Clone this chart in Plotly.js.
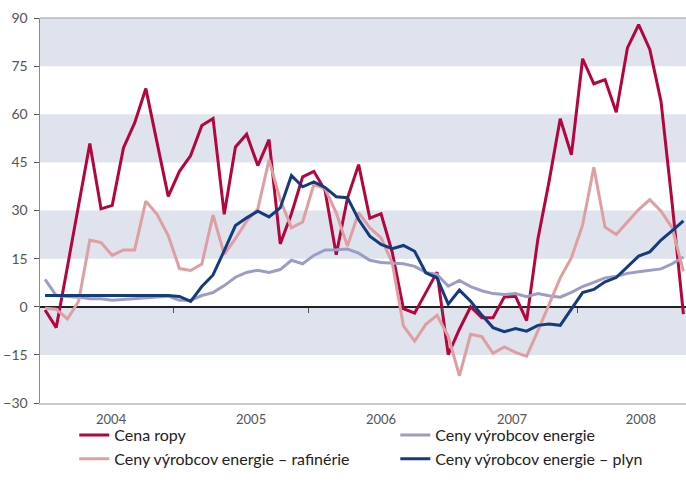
<!DOCTYPE html>
<html>
<head>
<meta charset="utf-8">
<script src="https://cdn.plot.ly/plotly-3.0.1.min.js"></script>
<style>
  html, body { margin: 0; padding: 0; background: #fff; }
  #chart { width: 686px; height: 493px; }
</style>
</head>
<body>
<div id="chart"></div>
<script>
    // Monthly data, Jan 2004 - Oct 2008 (y/y change, %)
    const months = [];
    for (let y = 2004; y <= 2008; y++) {
        for (let m = 1; m <= 12; m++) {
            if (y === 2008 && m > 10) break;
            months.push(y + '-' + String(m).padStart(2, '0'));
        }
    }
    const years = ['2004', '2005', '2006', '2007', '2008'];

    const cenaRopy = [
        -1, -6.5, 12.5, 31.5, 50.9, 30.5, 31.6, 49.5, 57.3, 68, 51, 34.4,
        42.2, 47.1, 56.5, 58.7, 28.8, 49.8, 53.8, 44, 52.1, 19.6, 29, 40.5,
        42.2, 36.3, 16.2, 33.8, 44.3, 27.6, 29, 17, -0.6, -2, 4.4, 10.8,
        -14.9, -7, 0, -3.4, -3.4, 3, 3.3, -4.3, 21, 39, 58.6, 47.4,
        77.3, 69.5, 70.8, 60.6, 80.7, 87.9, 80.2, 64, 32, -2.3
    ];
    const vyrobcoviaEnergie = [
        8.5, 3.5, 3.2, 3, 2.5, 2.5, 2, 2.3, 2.5, 2.8, 3.2, 3.3,
        2, 2, 3.5, 4.4, 6.6, 9.2, 10.7, 11.4, 10.7, 11.6, 14.5, 13.4,
        16, 17.7, 17.8, 18, 16.7, 14.5, 13.8, 13.6, 13.4, 12.6, 10.7, 10.1,
        6.4, 8.2, 6.3, 5, 4.1, 3.8, 4.1, 3.1, 4.1, 3.4, 3, 4.5,
        6.3, 7.6, 9, 9.5, 10.4, 10.9, 11.3, 11.8, 13.4, 15.5
    ];
    const rafinerie = [
        -0.5, -0.8, -3.8, 1.7, 20.8, 20, 16, 17.7, 17.7, 32.9, 28.8, 22.2,
        11.9, 11.3, 13.3, 28.6, 16.3, 21.2, 26.7, 30.5, 45.8, 33.4, 24.6, 26.4,
        38.1, 36.8, 29.3, 18.9, 29.3, 24.6, 21.5, 13.7, -6, -10.7, -5.5, -2.7,
        -9.2, -21.5, -8.6, -9.3, -14.5, -12.5, -14.2, -15.4, -7.6, 0.7, 9, 15.3,
        25.5, 43.5, 24.8, 22.5, 26.4, 30.3, 33.4, 29.8, 24.6, 11
    ];
    const plyn = [
        3.5, 3.5, 3.5, 3.5, 3.5, 3.5, 3.5, 3.5, 3.5, 3.5, 3.5, 3.5,
        3.2, 1.7, 6.3, 9.9, 17.5, 25.3, 27.7, 29.8, 28, 30.8, 40.9, 37.4,
        38.9, 37.2, 34.3, 34, 27.2, 22, 19.4, 18.1, 19.1, 17.3, 10.6, 9,
        0.8, 5.2, 1.7, -2.6, -6.5, -7.8, -6.8, -7.6, -5.8, -5.4, -5.8, -0.8,
        4.4, 5.4, 7.8, 9.1, 12.6, 15.8, 17.1, 20.8, 23.7, 26.8
    ];

    const idx = months.map((m, i) => i);

    function line(name, y, color, legend) {
        return {
            x: idx, y: y, type: 'scatter', mode: 'lines', name: name,
            line: { color: color, width: 3 }, legend: legend,
            hoverinfo: 'skip'
        };
    }

    // two legend columns: left = ropa, rafinerie; right = energie, plyn
    const traces = [
        line('Cena ropy', cenaRopy, '#b5053e', 'legend'),
        line('Ceny výrobcov energie', vyrobcoviaEnergie, '#9c9dc6', 'legend2'),
        line('Ceny výrobcov energie – rafinérie', rafinerie, '#df9fa2', 'legend'),
        line('Ceny výrobcov energie – plyn', plyn, '#143c7c', 'legend2'),
        // carries the year-boundary ticks on the zero line
        { x: [], y: [], xaxis: 'x2', type: 'scatter', showlegend: false, hoverinfo: 'skip' }
    ];
    const xRange = [-0.45, 57.23];

    const shapes = [[75, 90], [45, 60], [15, 30], [-15, 0]].map(b => ({
        type: 'rect', xref: 'paper', yref: 'y', x0: 0, x1: 1, y0: b[0], y1: b[1],
        fillcolor: '#dee3ed', line: { width: 0 }, layer: 'below'
    }));
    shapes.push({
        type: 'line', xref: 'paper', yref: 'paper', x0: 0, x1: 1, y0: 1, y1: 1,
        line: { color: '#b9b9b9', width: 1.5 }, layer: 'below'
    });

    const legendStyle = {
        orientation: 'v', xanchor: 'left', y: -0.039, yanchor: 'top',
        font: { size: 16, color: '#222' }, traceorder: 'normal',
        bgcolor: 'rgba(0,0,0,0)', tracegroupgap: 0
    };

    const layout = {
        width: 686, height: 493,
        margin: { l: 40, r: 0, t: 18, b: 90, autoexpand: false },
        paper_bgcolor: '#fff', plot_bgcolor: '#fff',
        font: { family: 'Lato, "Open Sans", sans-serif', color: '#222' },
        showlegend: true,
        legend: Object.assign({ x: 0.053 }, legendStyle),
        legend2: Object.assign({ x: 0.55 }, legendStyle),
        xaxis: {
            range: xRange, showgrid: false, zeroline: false,
            showline: true, linecolor: '#cacaca', linewidth: 2,
            ticks: '', tickvals: [5.9, 18.4, 30, 41.7, 53.2], ticktext: years,
            tickfont: { size: 13, color: '#555' }, ticklabelstandoff: 3
        },
        xaxis2: {
            overlaying: 'x', anchor: 'free', position: 0.25, range: xRange,
            showgrid: false, zeroline: false, showline: false,
            ticks: 'outside', ticklen: 5, tickwidth: 1, tickcolor: '#555',
            tickvals: [11.5, 23.5, 35.5, 47.5], showticklabels: false
        },
        yaxis: {
            range: [-30, 90], dtick: 15, tick0: 0, showgrid: false,
            zeroline: true, zerolinecolor: '#222', zerolinewidth: 1.5,
            showline: true, linecolor: '#8a8a8a', linewidth: 1.5,
            ticks: 'outside', ticklen: 5, tickcolor: '#555', tickwidth: 1,
            tickfont: { size: 14, color: '#555' }, ticklabelstandoff: 3
        },
        shapes: shapes
    };

    Plotly.newPlot('chart', traces, layout, { displayModeBar: false, staticPlot: true });
</script>
</body>
</html>
